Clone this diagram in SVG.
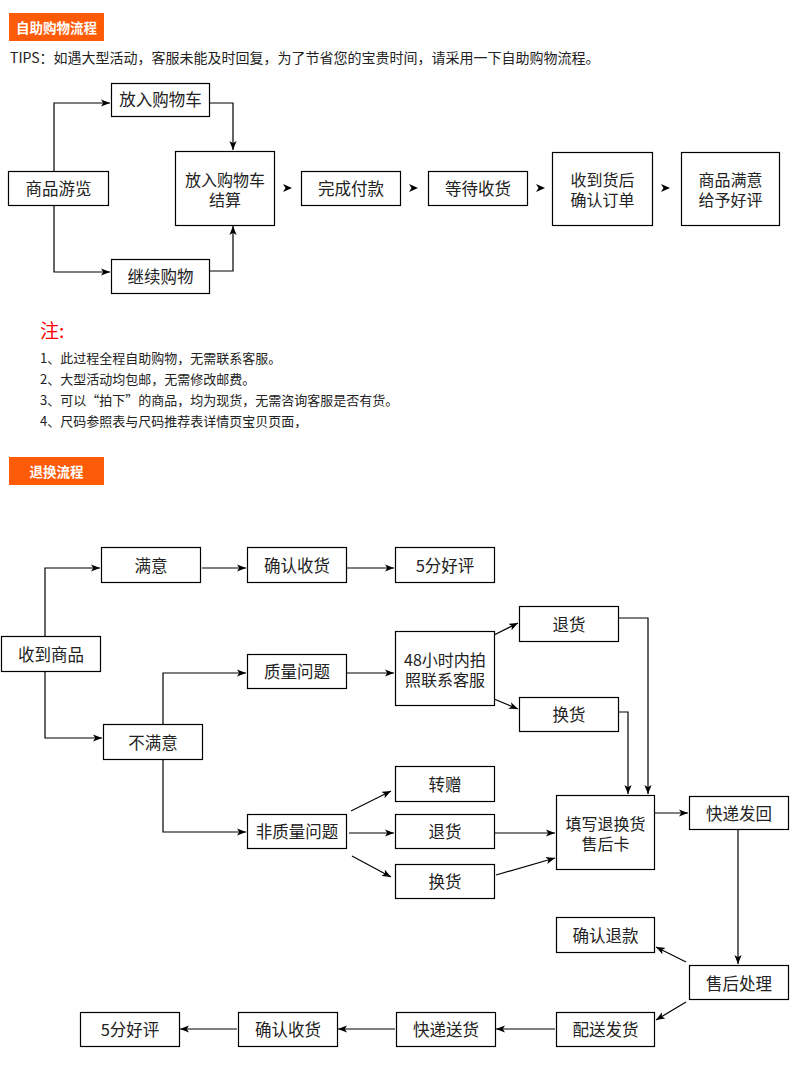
<svg xmlns="http://www.w3.org/2000/svg" width="790" height="1082" viewBox="0 0 790 1082">
<defs>
<style>
.bx{fill:#fff;stroke:#000;stroke-width:1.2}
.t{font-family:"Noto Sans CJK SC","Liberation Sans",sans-serif;font-size:16.5px;fill:#222;text-anchor:middle;dominant-baseline:central}
.t2{font-family:"Noto Sans CJK SC","Liberation Sans",sans-serif;font-size:16px;fill:#222;text-anchor:middle;dominant-baseline:central}
.hd{fill:#fe5b08}
.ht{font-family:"Noto Sans CJK SC","Liberation Sans",sans-serif;font-size:13.5px;fill:#fff;font-weight:bold;text-anchor:middle;dominant-baseline:central}
.nt{font-family:"Noto Sans CJK SC","Liberation Sans",sans-serif;font-size:13px;fill:#222}
.c{fill:none;stroke:#000;stroke-width:1.2;marker-end:url(#ar)}
.ah{fill:#000}
</style>
<marker id="ar" viewBox="0 0 10 8" refX="10" refY="4" markerWidth="9" markerHeight="7.2" markerUnits="userSpaceOnUse" orient="auto">
<path d="M0,0 L10,4 L0,8 L2.5,4 z" fill="#000"/>
</marker>
</defs>
<rect width="790" height="1082" fill="#fff"/>

<g id="header1"><rect class="hd" x="9" y="13" width="95" height="28"/><text class="ht" x="56.5" y="27">自助购物流程</text></g>
<text id="tips" x="10" y="63" font-family="'Noto Sans CJK SC','Liberation Sans',sans-serif" font-size="14" fill="#222">TIPS：如遇大型活动，客服未能及时回复，为了节省您的宝贵时间，请采用一下自助购物流程。</text>

<g id="connectors-top">
<path class="c" d="M54,171 V103 H110"/>
<path class="c" d="M54,205 V272 H110"/>
<path class="c" d="M210,103 H233 V150"/>
<path class="c" d="M210,271 H233 V226"/>
<path class="ah" d="M283,184 L292,188 L283,192 L285.5,188 z"/>
<path class="ah" d="M409,184 L418,188 L409,192 L411.5,188 z"/>
<path class="ah" d="M536,184 L545,188 L536,192 L538.5,188 z"/>
<path class="ah" d="M661,184 L670,188 L661,192 L663.5,188 z"/>
</g>

<g id="n-cart"><rect class="bx" x="111.5" y="83.5" width="98" height="33"/><text class="t" x="160.5" y="99">放入购物车</text></g>
<g id="n-browse"><rect class="bx" x="8.5" y="171.5" width="100" height="34"/><text class="t" x="58.5" y="188">商品游览</text></g>
<g id="n-continue"><rect class="bx" x="111.5" y="259.5" width="98" height="34"/><text class="t" x="160.5" y="276">继续购物</text></g>
<g id="n-checkout"><rect class="bx" x="175.5" y="151.5" width="99" height="74"/><text class="t2" x="225" y="178.5">放入购物车</text><text class="t2" x="225" y="198.5">结算</text></g>
<g id="n-pay"><rect class="bx" x="301.5" y="171.5" width="99" height="34"/><text class="t" x="351" y="188">完成付款</text></g>
<g id="n-wait"><rect class="bx" x="428.5" y="171.5" width="99" height="34"/><text class="t" x="478" y="188">等待收货</text></g>
<g id="n-confirm"><rect class="bx" x="552.5" y="152.5" width="100" height="73"/><text class="t2" x="602.5" y="178.5">收到货后</text><text class="t2" x="602.5" y="198.5">确认订单</text></g>
<g id="n-review"><rect class="bx" x="681.5" y="152.5" width="98" height="73"/><text class="t2" x="730.5" y="178.5">商品满意</text><text class="t2" x="730.5" y="198.5">给予好评</text></g>

<g id="notes">
<text x="40" y="338" font-family="'Noto Sans CJK SC','Liberation Sans',sans-serif" font-size="19" fill="#ff0000">注:</text>
<text class="nt" x="40" y="363">1、此过程全程自助购物，无需联系客服。</text>
<text class="nt" x="40" y="384">2、大型活动均包邮，无需修改邮费。</text>
<text class="nt" x="40" y="405">3、可以“拍下”的商品，均为现货，无需咨询客服是否有货。</text>
<text class="nt" x="40" y="426">4、尺码参照表与尺码推荐表详情页宝贝页面，</text>
</g>

<g id="header2"><rect class="hd" x="9" y="457" width="95" height="28"/><text class="ht" x="56.5" y="471">退换流程</text></g>

<g id="connectors-bottom">
<path class="c" d="M45,636 V568 H100"/>
<path class="c" d="M45,671 V738 H102"/>
<path class="c" d="M202,568 H246"/>
<path class="c" d="M347,568 H394"/>
<path class="c" d="M163,724 V673 H246"/>
<path class="c" d="M347,673 H394"/>
<path class="c" d="M494,635 L518,623"/>
<path class="c" d="M494,699 L518,709"/>
<path class="c" d="M618,618 H648 V794"/>
<path class="c" d="M618,712 H628 V794"/>
<path class="c" d="M163,759 V832 H246"/>
<path class="c" d="M351,811 L391,791"/>
<path class="c" d="M349,833 L394,833"/>
<path class="c" d="M352,856 L391,877"/>
<path class="c" d="M494,833 H555"/>
<path class="c" d="M496,875 L555,858"/>
<path class="c" d="M654,813 H688"/>
<path class="c" d="M738,829 V964"/>
<path class="c" d="M686,962 L656,947"/>
<path class="c" d="M686,1002 L656,1020"/>
<path class="c" d="M555,1029 H496"/>
<path class="c" d="M395,1029 H338"/>
<path class="c" d="M237,1029 H180"/>
</g>

<g id="b-ok"><rect class="bx" x="101.5" y="547.5" width="99" height="35"/><text class="t" x="151" y="565">满意</text></g>
<g id="b-confirm1"><rect class="bx" x="247.5" y="547.5" width="99" height="35"/><text class="t" x="297" y="565">确认收货</text></g>
<g id="b-five1"><rect class="bx" x="395.5" y="547.5" width="99" height="35"/><text class="t" x="445" y="565">5分好评</text></g>
<g id="b-receive"><rect class="bx" x="1.5" y="636.5" width="99" height="35"/><text class="t" x="51" y="654">收到商品</text></g>
<g id="b-quality"><rect class="bx" x="247.5" y="654.5" width="99" height="34"/><text class="t" x="297" y="671">质量问题</text></g>
<g id="b-48h"><rect class="bx" x="395.5" y="631.5" width="99" height="74"/><text class="t2" x="445" y="658.5">48小时内拍</text><text class="t2" x="445" y="678.5">照联系客服</text></g>
<g id="b-notok"><rect class="bx" x="103.5" y="724.5" width="99" height="35"/><text class="t" x="153" y="742">不满意</text></g>
<g id="b-return1"><rect class="bx" x="519.5" y="606.5" width="99" height="35"/><text class="t" x="569" y="624">退货</text></g>
<g id="b-exchange1"><rect class="bx" x="519.5" y="697.5" width="99" height="34"/><text class="t" x="569" y="714">换货</text></g>
<g id="b-nonquality"><rect class="bx" x="247.5" y="814.5" width="99" height="34"/><text class="t" x="297" y="831">非质量问题</text></g>
<g id="b-gift"><rect class="bx" x="395.5" y="766.5" width="99" height="35"/><text class="t" x="445" y="784">转赠</text></g>
<g id="b-return2"><rect class="bx" x="395.5" y="814.5" width="99" height="34"/><text class="t" x="445" y="831">退货</text></g>
<g id="b-exchange2"><rect class="bx" x="395.5" y="864.5" width="99" height="34"/><text class="t" x="445" y="881">换货</text></g>
<g id="b-card"><rect class="bx" x="556.5" y="795.5" width="98" height="74"/><text class="t2" x="605.5" y="822.5">填写退换货</text><text class="t2" x="605.5" y="842.5">售后卡</text></g>
<g id="b-sendback"><rect class="bx" x="689.5" y="796.5" width="99" height="33"/><text class="t" x="739" y="812.5">快递发回</text></g>
<g id="b-refund"><rect class="bx" x="556.5" y="917.5" width="98" height="35"/><text class="t" x="605.5" y="935">确认退款</text></g>
<g id="b-aftersale"><rect class="bx" x="689.5" y="965.5" width="99" height="34"/><text class="t" x="739" y="982.5">售后处理</text></g>
<g id="b-dispatch"><rect class="bx" x="556.5" y="1012.5" width="98" height="34"/><text class="t" x="605.5" y="1029">配送发货</text></g>
<g id="b-express"><rect class="bx" x="396.5" y="1012.5" width="99" height="34"/><text class="t" x="446" y="1029">快递送货</text></g>
<g id="b-confirm2"><rect class="bx" x="238.5" y="1012.5" width="99" height="34"/><text class="t" x="288" y="1029">确认收货</text></g>
<g id="b-five2"><rect class="bx" x="80.5" y="1012.5" width="99" height="34"/><text class="t" x="130" y="1029">5分好评</text></g>
</svg>
